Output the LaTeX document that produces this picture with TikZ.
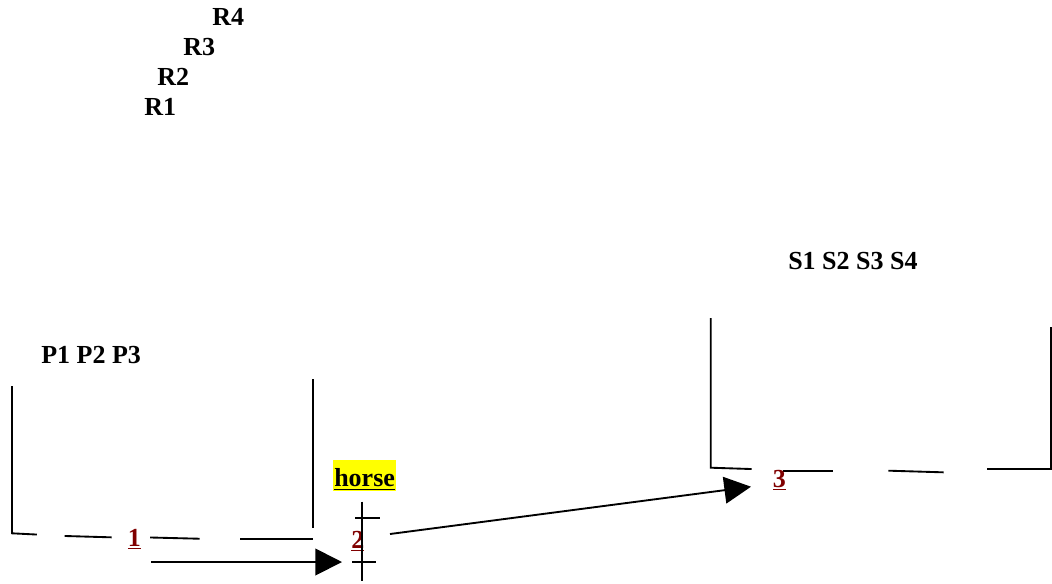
\documentclass[tikz,border=0pt]{standalone}
\usepackage{fontspec}
\setmainfont{Liberation Serif}
\usetikzlibrary{arrows.meta}
\definecolor{numred}{RGB}{128,0,0}
\definecolor{hiyellow}{RGB}{255,255,0}
\begin{document}
\begin{tikzpicture}[x=0.75pt,y=-0.75pt,
  lbl/.style={anchor=base west,inner sep=0pt,
    font=\fontsize{19.5pt}{23pt}\selectfont\bfseries},
  num/.style={lbl,text=numred},
  wall/.style={line width=1.4pt,line cap=rect},
  arrowline/.style={line width=1.4pt,-{Triangle[length=20pt,width=20pt]}},
  tick/.style={line width=1.4pt}]
\useasboundingbox (0,0) rectangle (1052,583);

% stacked labels
\node[lbl] (r4) at (212,25) {R4};
\node[lbl] (r3) at (183,55) {R3};
\node[lbl] (r2) at (157,85) {R2};
\node[lbl] (r1) at (144,115) {R1};
\node[lbl] (p) at (41,363) {P1 P2 P3};
\node[lbl] (s) at (788,269.5) {S1 S2 S3 S4};

% left container
\draw[wall] (313.3,380) -- (313.3,527);
\draw[wall] (12,387) -- (12,533.3) -- (36,534.5);
\draw[wall] (65.5,536) -- (110.7,537.3);
\draw[wall] (151,537.5) -- (198.7,538.7);
\draw[wall] (241.3,538.7) -- (312,538.7);

% right container
\draw[wall] (710.7,319) -- (710.7,467.7) -- (750.7,469);
\draw[wall] (784,470.7) -- (832,470.7);
\draw[wall] (889.3,470.7) -- (942.7,472.3);
\draw[wall] (988,469.3) -- (1050.7,469.3) -- (1050.7,328.3);

% numbered marks
\node[num] (n1) at (127.5,546.5) {\underline{1}};
\node[num] (n2) at (351,548) {\underline{2}};
\node[num] (n3) at (772.5,487) {\underline{3}};

% highlighted word
\node[lbl,fill=hiyellow,inner xsep=0.75pt,text height=20pt,text depth=3.2pt]
  (horse) at (333,486.7) {\underline{horse}};

% cross mark through 2
\coordinate (vt) at (362,501.7);
\coordinate (vb) at (362,581);
\draw[tick] (vt) -- (vb);
\draw[tick] (355,517.7) -- (380,517.7);
\draw[tick] (352.3,561.7) -- (375.7,561.7);

% arrows
\coordinate (a1s) at (151,562);
\coordinate (a1e) at (342,562);
\coordinate (a2s) at (390,534);
\coordinate (a2e) at (751,486.7);
\draw[arrowline] (a1s) -- (a1e);
\draw[arrowline] (a2s) -- (a2e);
\end{tikzpicture}
\end{document}
